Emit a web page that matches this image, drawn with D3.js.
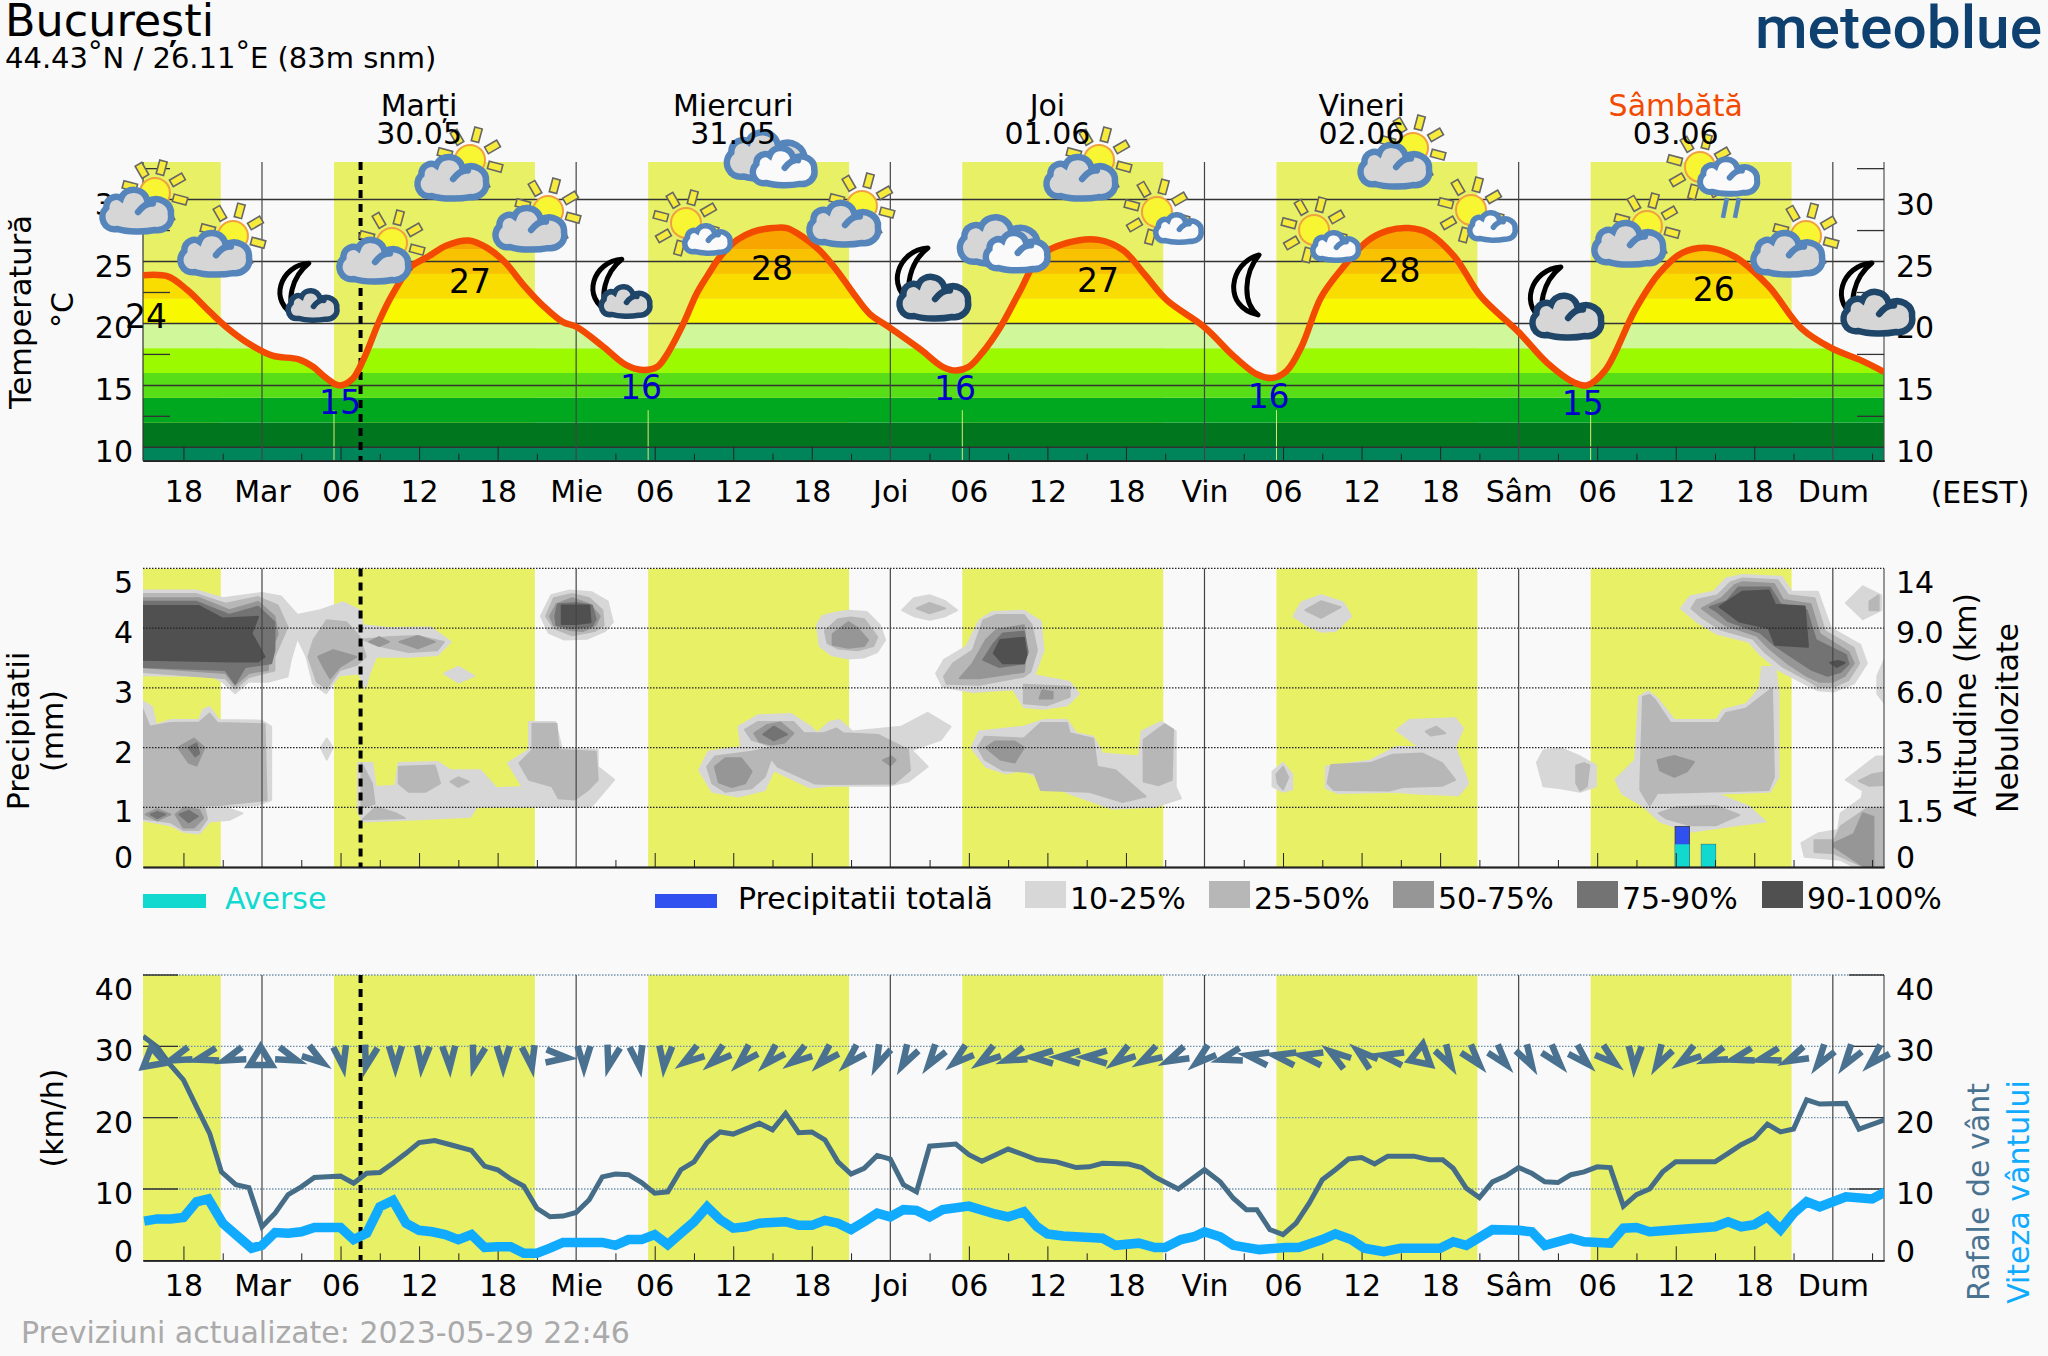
<!DOCTYPE html>
<html><head><meta charset="utf-8">
<script src="https://cdn.jsdelivr.net/npm/d3@7/dist/d3.min.js"></script>
<style>html,body{margin:0;background:#f9f9f9}svg{display:block}text{font-family:"DejaVu Sans";fill:#000}</style>
</head><body><svg id="c" width="2048" height="1356"></svg>
<script>
// ---- time (hours from Tuesday 00:00) ----
const dayTicks=[0,24,48,72,96,120];
const dayTickNames=["Mar","Mie","Joi","Vin","Sâm","Dum"];
const majorHours=[-6,6,12,18,30,36,42,54,60,66,78,84,90,102,108,114];
const minorHours=[-3,3,9,15,21,27,33,39,45,51,57,63,69,75,81,87,93,99,105,111,117,123];
const dayHours=[12,36,60,84,108];
const dayNames=["Marți","Miercuri","Joi","Vineri","Sâmbătă"];
const dayDates=["30.05","31.05","01.06","02.06","03.06"];
const sunrise=[-18.5,5.5,29.5,53.5,77.5,101.5];
const sunset=[-3.15,20.85,44.85,68.85,92.85,116.85];
const nowHour=7.53;
// ---- temperature ----
const tempHours=[-9.09,-7.2,-5.7,-4,-2.6,-0.9,0.8,2.8,3.9,4.9,5.9,6.9,7.8,9,10,11.4,12.7,14.1,15.8,17.2,18.6,19.9,21.5,23,24,26.1,27.8,29.1,30.2,31,32.2,33.2,34,35,36.3,37.5,39,40.1,41.3,42.6,43.9,45.2,46.4,47.9,50.3,52,53,54,55,56.4,57.9,59.4,61.5,63.9,65.8,67.4,69.1,72,74.3,76,77.2,78.3,79.4,80.9,82.4,84.5,86,87.6,89.1,91.1,93.1,96,98.2,100.3,101.2,102.6,104.9,106.7,108.5,110.5,112.5,115.1,117.6,119.9,122.2,123.9];
const tempValues=[23.9,23.8,22.7,20.95,19.6,18.3,17.4,17.1,16.5,15.6,15,15.5,17.2,20.3,22.4,24.6,25.4,26.3,26.7,26.1,24.9,23.2,21.4,20.1,19.74,18.1,16.65,16.24,16.5,17.6,20,22.4,23.8,25.4,26.75,27.4,27.7,27.7,27,25.9,24.3,22.4,20.8,19.7,17.9,16.5,16.2,16.5,17.6,19.7,22.6,25.4,26.5,26.75,25.9,24,21.9,19.7,17.3,15.9,15.6,16.2,18.1,22.1,24.3,26.7,27.5,27.7,27.3,25.4,22.2,19.3,16.8,15.2,15,16.2,21.1,24,25.7,26.1,25.4,23,19.6,18,17,16.1];
const tempBandEdges=[8,10,12,14,16,18,20,22,24,26,28,34];
const tempBandColors=["#00855a","#00771f","#00a81f","#57de16","#9bf900","#d0f79a","#f8f800","#f9dc00","#f8c200","#f8a500","#f88000"];
const tempGrid=[10,15,20,25,30];
const tempMinorTicks=[12.5,17.5,22.5,27.5,32.5];
const extremeHours=[-8.86,5.96,15.9,28.95,38.96,52.94,63.87,76.9,86.9,100.9,110.9];
const extremeTemps=[20.6,13.66,23.43,14.87,24.48,14.8,23.5,14.15,24.3,13.6,22.8];
const extremeLabels=[24,15,27,16,28,16,27,16,28,15,26];
const extremeIsMin=[0,1,0,1,0,1,0,1,0,1,0];
// ---- weather icons ----
const iconKinds=["A","A","D","A","A","A","D","B","C","A","E","C","A","B","F","B","A","B","E","A","G","A","E"];
const iconHours=[-9.63,-3.67,2.14,8.48,14.44,20.4,26.05,32.39,38.8,44.38,49.35,56.6,62.49,68.37,75.02,80.37,86.48,92.36,97.71,104.35,109.85,116.5,121.47];
const iconTemps=[29.17,25.69,22.95,25.13,31.83,27.71,23.27,28.12,33.37,28.12,24.08,26.5,31.83,29,23.11,27.55,32.8,29.17,22.55,26.5,32.64,25.69,22.87];
// ---- precipitation ----
const precipHours=[108.5,110.5];
const showerValues=[0.38,0.38];
const totalValues=[0.68,0.38];
const precipTicks=[0,1,2,3,4,5];
const altitudeLabels=["0","1.5","3.5","6.0","9.0","14"];
// ---- cloud cover outlines, [hour, axis level] per class ----
const cloud10=[
[[-9.3,4.63],[-5,4.63],[-3,4.5],[0,4.59],[1.45,4.53],[2.7,4.22],[4.44,4.3],[6.2,4.43],[7.44,4.3],[7.7,4.05],[9.9,4.0],[12.9,4.01],[14.4,3.77],[13.4,3.55],[11.2,3.52],[8.7,3.52],[8.2,3.24],[7.9,2.99],[7.4,3.24],[5.9,3.21],[4.9,2.91],[3.9,3.07],[3.4,3.52],[2.7,3.84],[2.2,3.47],[1.95,3.19],[.45,3.1],[-1.05,3.1],[-2.05,2.91],[-3,3.1],[-3.8,3.2],[-9.3,3.21]],
[[13.9,3.24],[15,3.35],[16.2,3.2],[15,3.09]],
[[21.3,4.2],[22.1,4.55],[23.5,4.63],[25.2,4.6],[26.4,4.45],[26.8,4.1],[26.2,3.95],[24.8,3.82],[23.1,3.81],[21.9,3.92]],
[[48.9,4.3],[49.8,4.5],[51,4.55],[52.2,4.45],[53.1,4.3],[52.2,4.2],[51,4.14],[49.8,4.2]],
[[42.4,4.05],[42.8,4.2],[43.6,4.25],[44.8,4.29],[46.2,4.27],[47.2,4.05],[47.6,3.8],[47,3.6],[46,3.51],[44.8,3.49],[43.5,3.55],[42.6,3.7]],
[[-9.3,2.8],[-8.4,2.68],[-8.1,2.38],[-7,2.46],[-4.8,2.46],[-4.5,2.63],[-4,2.68],[-3.3,2.46],[-.05,2.45],[.7,2.35],[.7,1.12],[-.3,1.04],[-3,1.01],[-1.5,.9],[-2.5,.79],[-4,.76],[-4.8,.56],[-6,.59],[-7,.7],[-9.3,.79]],
[[4.5,2],[4.95,2.15],[5.4,2],[4.95,1.8]],
[[7.34,1.74],[8.43,1.74],[8.68,1.34],[10.18,1.36],[10.43,1.74],[13.4,1.76],[14.4,1.62],[16.67,1.62],[17.9,1.32],[19.9,1.34],[18.8,1.74],[20.4,1.96],[20.4,2.43],[22.4,2.43],[22.9,1.99],[25.65,1.96],[25.65,1.68],[26.9,1.46],[25.15,1.01],[16.4,1.01],[15.9,.84],[11.93,.8],[7.68,.76],[7.34,.95]],
[[33.4,1.62],[34.1,1.93],[36.6,2.01],[36.4,2.35],[37.9,2.54],[40.4,2.56],[41.9,2.35],[42.4,2.24],[43.4,2.43],[44.1,2.46],[45.1,2.27],[48.85,2.35],[50.85,2.58],[52.6,2.35],[51.85,2.13],[49.6,1.96],[50.85,1.68],[49.35,1.43],[47.85,1.36],[43.4,1.36],[41.9,1.33],[39.1,1.62],[38.4,1.29],[36.4,1.18],[34.4,1.26]],
[[51.5,3.24],[52.1,3.47],[53.8,3.69],[54.8,4.13],[55.8,4.27],[58.2,4.29],[59.5,4.11],[59.7,3.63],[59,3.21],[61.7,3.1],[62.4,2.9],[61.5,2.71],[59.7,2.65],[58.2,2.68],[57.4,2.97],[56.8,2.97],[54.3,2.93],[52,3.02]],
[[54.2,2],[54.8,2.27],[58.2,2.35],[59.7,2.46],[61.5,2.46],[62.2,2.24],[63.5,2.18],[64.2,1.9],[67,1.85],[67.2,2.27],[68.7,2.43],[69.8,2.27],[69.8,1.34],[70.2,1.15],[68.2,1.01],[64.95,.98],[61.7,1.23],[58.2,1.62],[56.8,1.57],[55.3,1.68]],
[[78.8,4.2],[79.4,4.43],[80.9,4.55],[82.6,4.43],[83.2,4.2],[82,3.95],[80.9,3.94],[79.8,4.05]],
[[77.2,1.6],[78,1.74],[78.7,1.55],[78.7,1.3],[78,1.26],[77.2,1.35]],
[[81.27,1.68],[84.66,1.78],[86.66,2.01],[88.4,2.01],[86.66,2.29],[87.66,2.46],[91.15,2.49],[91.75,2.32],[91.15,2.01],[92.15,1.4],[91.4,1.2],[88.2,1.23],[86.66,1.26],[82.2,1.24],[81.27,1.32]],
[[97.4,1.75],[97.9,1.95],[99.2,1.99],[100.7,1.85],[101.9,1.7],[101.9,1.35],[100.7,1.26],[99.2,1.32],[97.9,1.35]],
[[103.4,1.46],[104.9,1.79],[105.2,2.85],[105.9,2.94],[106.6,2.82],[107.9,2.46],[111.1,2.46],[111.6,2.63],[113.4,2.73],[114.4,2.99],[114.6,3.35],[115.6,3.35],[115.85,2.91],[115.85,1.51],[115.2,1.26],[111.1,1.23],[113.6,1.01],[114.85,.76],[112.6,.7],[109.1,.59],[106.8,.76],[105.6,1.01],[103.9,1.23]],
[[108.4,4.33],[109.1,4.53],[110.9,4.61],[111.85,4.83],[113.1,4.89],[116.1,4.86],[116.85,4.61],[118.85,4.61],[119.85,4],[122.1,3.72],[122.6,3.41],[121.6,3.07],[120.1,2.94],[118.85,2.96],[117.85,3.07],[115.85,3.3],[114.35,3.58],[113.6,3.77],[111.1,3.91],[109.6,4.11]],
[[121,4.42],[122.3,4.7],[123.7,4.55],[123.7,4.3],[122.3,4.15]],
[[123.4,3.2],[124.3,3.65],[124.3,2.65],[123.4,2.9]],
[[121,1.46],[123.3,1.85],[124.3,1.85],[124.3,-.1],[122.5,-.1],[120.6,.12],[117.85,.17],[117.6,.4],[118.85,.56],[120.4,.62],[120.6,.9],[122.2,1.15],[122.3,1.28]]
];
const cloud25=[
[[-9.3,4.57],[-5,4.57],[-2.8,4.41],[-.3,4.52],[1.2,4.38],[1.95,4.02],[.95,3.52],[.95,3.29],[-1,3.18],[-2.05,2.99],[-2.8,3.16],[-9.3,3.27]],
[[4.94,4.13],[6.44,4.1],[7.44,3.86],[7.93,3.52],[7.2,3.38],[5.94,3.3],[4.94,2.99],[4.2,3.1],[3.54,3.52],[3.94,3.8]],
[[7.7,3.81],[9.9,3.85],[11.9,3.87],[13.9,3.77],[13.4,3.63],[11.2,3.6],[9.2,3.69]],
[[21.7,4.2],[22.3,4.5],[23.7,4.57],[25,4.5],[26,4.3],[26.1,4.05],[25.4,3.95],[23.7,3.88],[22.3,4]],
[[50,4.33],[51,4.42],[52.2,4.33],[51,4.25]],
[[43,3.95],[44,4.15],[45,4.18],[46,4.15],[47,3.85],[46.7,3.7],[45.5,3.63],[44,3.66],[43.2,3.75]],
[[-9.3,2.74],[-8.6,2.35],[-7,2.41],[-4.8,2.42],[-4,2.57],[-3.4,2.41],[.2,2.39],[.35,1.12],[-3.3,1.04],[-9.3,1.02]],
[[-9.3,.98],[-4.4,1.0],[-4.2,.8],[-4.8,.62],[-6,.62],[-7,.75],[-9.3,.82]],
[[7.6,1.74],[8.4,1.4],[8.6,1.06],[7.6,1]],
[[10.45,1.68],[13.2,1.7],[13.6,1.4],[12.5,1.26],[11.2,1.26],[10.45,1.4]],
[[7.7,.8],[8.7,1.0],[10.2,.9],[10.9,.82]],
[[14.4,1.43],[15,1.5],[15.8,1.43],[15,1.34]],
[[20.66,2.4],[22.5,2.4],[22.65,1.96],[25.5,1.93],[25.65,1.46],[24.9,1.29],[23.9,1.13],[22.65,1.15],[22.16,1.35],[20.4,1.46],[19.66,1.74],[20.66,1.96]],
[[34,1.68],[34.6,1.85],[37.4,1.93],[39.1,2.01],[37.4,2.13],[36.9,2.3],[37.9,2.43],[40.6,2.43],[41.4,2.24],[42.9,2.24],[43.9,2.32],[44.4,2.24],[47.1,2.21],[49.35,1.96],[49.5,1.62],[48.3,1.4],[43.4,1.39],[42.2,1.4],[39.4,1.68],[38.9,1.82],[38.4,1.51],[37.4,1.32],[35.4,1.26],[34.4,1.4]],
[[52.1,3.19],[52.8,3.41],[54.3,3.63],[55.1,4.13],[56.1,4.22],[58.2,4.22],[58.8,4.05],[59.2,3.63],[58.7,3.27],[58.2,3.19],[54.8,3.05],[52.3,3.07]],
[[58.2,3.05],[61.7,3.02],[61.7,2.85],[60,2.71],[58.2,2.74]],
[[58.2,2.15],[59.5,2.41],[61.5,2.41],[61.7,2.24],[63.5,2.15],[63.8,1.68],[65.2,1.62],[67.5,1.18],[65.7,1.09],[63.2,1.26],[59.5,1.29],[59,1.58],[58.2,1.6]],
[[54.7,2],[55.2,2.18],[58.2,2.15],[58.2,1.6],[56.6,1.62],[55.2,1.8]],
[[67.35,2.13],[68.96,2.39],[69.6,2.3],[69.5,1.46],[68.5,1.37],[67.35,1.43]],
[[79.7,4.3],[80.9,4.45],[82.4,4.35],[80.9,4.17]],
[[77.5,1.55],[78,1.68],[78.4,1.5],[78,1.3],[77.6,1.4]],
[[81.67,1.71],[84.66,1.74],[86.4,1.88],[88.65,1.9],[90.15,1.74],[91.15,1.46],[90.15,1.36],[87.15,1.34],[86.15,1.28],[81.9,1.29],[81.4,1.4]],
[[88.9,2.27],[89.7,2.35],[90.4,2.24],[89.3,2.2]],
[[100.4,1.7],[101,1.74],[101.4,1.7],[101.2,1.35],[100.7,1.28],[100.4,1.4]],
[[105.3,1.43],[105.5,2.85],[106,2.88],[106.4,2.8],[107.6,2.41],[111.3,2.41],[111.85,2.58],[113.35,2.65],[115.35,2.99],[115.5,1.51],[115.1,1.29],[106.6,1.24],[106,1.03],[105.3,1.29]],
[[106.7,.9],[108.1,1.0],[111.1,1.02],[112.85,.87],[111.1,.7],[109.1,.7],[107.3,.81]],
[[109.2,4.33],[109.6,4.47],[111.2,4.55],[112.2,4.77],[113.1,4.83],[115.8,4.8],[116.6,4.55],[118.6,4.5],[119.4,3.95],[121.6,3.67],[122,3.41],[121.2,3.13],[120.1,3.02],[118.9,3.02],[117.9,3.15],[116.2,3.35],[114.8,3.6],[113.9,3.82],[111.4,3.98],[110,4.18]],
[[122.8,4.45],[123.5,4.55],[123.5,4.3],[122.8,4.3]],
[[122,1.44],[123,1.55],[124.3,1.6],[124.3,1.38],[122.8,1.36]],
[[120.6,.68],[122.6,.98],[124.3,1.0],[124.3,-.1],[123.4,-.1],[120.1,.23],[118.6,.25],[118.6,.45],[120.1,.45]]
];
const cloud50=[
[[-9.3,4.5],[-4.8,4.5],[-2.5,4.3],[-.3,4.44],[.95,4.2],[1.2,3.9],[.45,3.5],[.45,3.3],[-1,3.25],[-2.05,3.05],[-2.8,3.25],[-9.3,3.35]],
[[5.44,3.63],[7.19,3.52],[5.94,3.35],[5.2,3.16],[4.7,3.35],[4.3,3.52]],
[[8.2,3.77],[8.95,3.85],[9.7,3.77],[8.95,3.7]],
[[10.5,3.77],[11.9,3.87],[13.2,3.77],[11.9,3.66]],
[[22,4.2],[22.5,4.4],[23.7,4.5],[25,4.4],[25.8,4.2],[25.5,4.05],[24.5,3.95],[23.5,3.97],[22.3,4.05]],
[[43.6,3.9],[44.8,4.1],[45.5,4.0],[46.3,3.8],[46,3.7],[44.8,3.67],[43.6,3.72]],
[[-8.9,.88],[-8,.97],[-7,.88],[-8,.78]],
[[-6.6,.88],[-5.9,1.0],[-4.8,.95],[-4.5,.82],[-5.2,.66],[-6,.66]],
[[-6.4,2.0],[-5.2,2.15],[-4.4,2.0],[-5,1.7],[-5.6,1.75]],
[[37.6,2.24],[38.6,2.38],[39.6,2.42],[40.6,2.24],[39.9,2.08],[38.9,2.05],[38,2.1]],
[[34.6,1.68],[35.4,1.82],[36.6,1.82],[37.4,1.6],[36.9,1.4],[35.9,1.34],[34.9,1.42]],
[[47.45,1.79],[48.1,1.85],[48.4,1.79],[48,1.7]],
[[53.3,3.16],[54.3,3.41],[55.3,3.8],[56.1,3.97],[58.2,4.05],[58.4,3.63],[58.2,3.27],[54.8,3.16]],
[[59.6,2.96],[60.4,2.93],[60.4,2.82],[59.4,2.82]],
[[55.3,2],[56,2.1],[57.5,2.1],[58.2,2],[57.5,1.75],[56.4,1.8]],
[[106.6,1.79],[107.9,1.86],[109.4,1.76],[108.85,1.6],[107.9,1.51],[106.8,1.62]],
[[110,4.33],[111.5,4.5],[112.5,4.72],[113.1,4.77],[115.5,4.74],[116.2,4.47],[118.3,4.4],[119,3.9],[121.2,3.6],[121.6,3.41],[120.9,3.2],[120,3.1],[119,3.1],[118,3.2],[116.6,3.4],[115.2,3.65],[114.2,3.87],[111.8,4.05],[110.8,4.2]],
[[120.1,.4],[121.6,.55],[122.3,.9],[123.1,.84],[123.1,-.1],[120.1,.34]]
];
const cloud75=[
[[-9.3,4.44],[-5,4.44],[-2.5,4.22],[-.3,4.36],[.95,4.1],[.95,3.63],[.7,3.41],[-1.3,3.35],[-2.05,3.07],[-2.8,3.3],[-9.3,3.35]],
[[22.4,4.2],[22.6,4.4],[24,4.42],[25.2,4.38],[25.5,4.15],[25.2,4.03],[23.7,4],[22.5,4.05]],
[[-8.5,.88],[-8,.92],[-7.4,.88],[-8,.82]],
[[-6.3,.88],[-5.6,.94],[-4.9,.85],[-5.6,.75]],
[[-5.6,2.0],[-5,2.07],[-4.8,1.9],[-5.1,1.85]],
[[38.3,2.22],[39.1,2.35],[40.1,2.22],[39.1,2.12]],
[[55.1,3.47],[55.9,3.74],[56.6,3.91],[58.2,3.94],[58.5,3.6],[58.2,3.41],[56.3,3.35]],
[[110.6,4.35],[111.9,4.45],[112.8,4.68],[115.2,4.68],[116,4.4],[118,4.3],[118.7,3.8],[121,3.55],[121.2,3.4],[120.6,3.27],[119.6,3.2],[118.4,3.3],[117,3.5],[115.5,3.72],[114.5,3.92],[112,4.12],[111.2,4.27]]
];
const cloud90=[
[[-9.3,4.37],[-4.8,4.37],[-3,4.16],[-.3,4.19],[-.8,3.91],[.2,3.52],[-.3,3.44],[-2.3,3.44],[-9.3,3.47]],
[[22.9,4.38],[25,4.38],[25.1,4.1],[24,4.07],[22.9,4.07]],
[[55.9,3.58],[56.4,3.8],[58.2,3.84],[58.4,3.55],[58.2,3.41],[56.6,3.41]],
[[111.35,4.36],[113.1,4.61],[115.1,4.63],[115.6,4.39],[117.85,4.36],[118.1,3.69],[115.6,3.72],[115.1,4.0],[112.85,4.11]],
[[119.8,3.42],[120.4,3.45],[120.9,3.42],[120.3,3.35]]
];
const cloudClasses=[cloud10,cloud25,cloud50,cloud75,cloud90];
const cloudColors=["#d7d7d7","#b7b7b7","#969696","#737373","#505050"];
const cloudLegend=["10-25%","25-50%","50-75%","75-90%","90-100%"];
// ---- wind ----
const gustHours=[-9.08,-8,-7,-6,-5,-4,-3.1,-2,-1,0,1,2,3,4,5,6,7,8,9,10,11,12,13.2,14.4,16,17,18,19,20,21,22,23,24,25,26,27,28,29,30,31,32,33,34,35,36,38,39,40,41,42,43,44,45,46,47,48,49,50,51,53,54,55,57,58.2,59.2,60.7,62.2,63.2,64.2,66.2,67.2,68.2,70,72,73.2,74.2,75.2,76,77,78,79,80,81,82,83,84,85,86,88,89.2,90.2,91,92,93,94,95,96,97,98,99,100,101,102,103,104,105,106,107,108,111,112,113,114,115,116,117,118,119,121,122,124];
const gustValues=[31.4,29.9,27.4,25.3,21.5,17.8,12.4,10.6,10.2,4.7,6.6,9.2,10.3,11.6,11.7,11.8,10.8,12.2,12.3,13.6,15,16.5,16.8,16.2,15.4,13.2,12.7,11.4,10.4,7.3,6.1,6.2,6.7,8.5,11.7,12.1,12,10.9,9.4,9.6,12.7,13.8,16.5,18,17.7,19.2,18.3,20.6,17.9,18,16.9,13.8,12.1,12.9,14.7,14.2,10.6,9.6,16,16.3,14.8,13.9,15.6,14.8,14.1,13.8,13,13.1,13.6,13.5,13,11.7,10,12.7,11,8.7,7.1,7.1,4.3,3.6,5.2,8,11.3,12.7,14.2,14.4,13.5,14.6,14.6,14.1,14.1,12.9,10.1,8.8,11,11.8,13,12.2,11,10.9,12,12.4,13.1,13,7.6,9.2,10,12.4,13.8,13.8,15,16.2,17.1,19.1,18,18.4,22.5,21.9,22,18.4,19.7];
const speedHours=[-9,-8,-7,-6,-5,-4.1,-3,-2,-0.8,0,1,2,3,4,5,6,7,8,9,10,11,12,13,14,15,16,17,18,19,20,21,22,23,24,26,27,28,29,30,31,32,33,34,35,36,37,38,40,41,42,43,44,45,46,47,48,49,50,51,52,54,56,57,58.2,59.2,60,61.2,63.2,64.2,65.2,67,68.2,69,70.2,71.2,72,73.2,74.2,76.2,78.2,79.2,81,82,83.2,84.2,85.7,87,90,91,92,94,96,97,98,100,101,103,104,105,106,111,112,113,114,115,116,117,118,119,121,123,124];
const speedValues=[5.5,5.8,5.8,6,8.2,8.6,5.2,3.6,1.7,2.1,3.9,3.8,4,4.6,4.6,4.6,2.9,3.8,7.5,8.4,5.2,4.2,4,3.6,2.9,3.6,1.8,1.9,1.9,1,1,1.7,2.5,2.5,2.5,2.1,2.9,2.9,3.6,2.2,3.8,5.4,7.5,5.7,4.5,4.7,5.2,5.4,4.9,4.9,5.6,5.2,4.3,5.4,6.6,6.1,7.1,7,6.1,7.1,7.6,6.5,6.1,6.8,4.7,3.7,3.4,3.2,3.1,2.1,2.4,1.8,1.8,2.9,3.3,4,3.3,2.1,1.5,1.8,1.8,2.9,3.7,2.9,1.7,1.2,1.7,1.7,2.6,2.1,4.3,4.2,4,2.1,3.1,2.6,2.4,4.5,4.6,4,4.7,5.4,4.7,5,6.1,4.3,6.6,8.2,7.5,8.9,8.6,9.6];
const windTicks=[0,10,20,30,40];
// direction glyphs: rotation in degrees of a chevron, clockwise from tip-down
const windRotations=[170,70,75,70,180,-70,-55,-10,15,0,5,-3,15,0,-10,-85,0,15,-10,5,55,50,45,45,55,45,45,25,30,35,50,55,70,90,90,90,55,60,65,50,75,100,100,100,125,130,100,70,-30,-40,-40,-30,-40,-45,-50,3,30,55,70,75,75,65,35,35,45];
const windClosed=[0,4,47];
const windStartHour=-8.33, windStepHour=2.058, windGlyphLevel=28.5;

// ---- scales ----
const X0=143,X1=1884;
const x=d3.scaleLinear().domain([-9.09,123.91]).range([X0,X1]);
const yT=d3.scaleLinear().domain([10,30]).range([447.3,199.6]);
const yP=d3.scaleLinear().domain([0,5]).range([867,568.4]);
const yW=d3.scaleLinear().domain([0,40]).range([1260.3,975]);
const YEL="#e8f066",svg=d3.select("#c");
const panels=[{top:162,bot:460.7,id:"t"},{top:568.4,bot:867,id:"p"},{top:975,bot:1260.3,id:"w"}];
const defs=svg.append("defs");
panels.forEach(p=>defs.append("clipPath").attr("id","clip-"+p.id).append("rect").attr("x",X0).attr("y",p.top).attr("width",X1-X0).attr("height",p.bot-p.top));
const fs=30;
const txt=(s,xx,yy,o={})=>svg.append("text").attr("x",xx).attr("y",yy+(o.center===false?0:(o.size||fs)*.36)).attr("text-anchor",o.anchor||"middle").attr("font-size",o.size||fs).style("fill",o.fill||"#000").text(s);
const vtxt=(s,xx,yy,o={})=>svg.append("text").attr("transform",`translate(${xx+(o.size||fs)*.36},${yy}) rotate(-90)`).attr("text-anchor","middle").attr("font-size",o.size||fs).style("fill",o.fill||"#000").text(s);

// daylight bands
panels.forEach(p=>{
  const g=svg.append("g").attr("clip-path",`url(#clip-${p.id})`);
  g.selectAll("rect").data(d3.zip(sunrise,sunset)).join("rect")
    .attr("x",d=>x(d[0])).attr("width",d=>x(d[1])-x(d[0])).attr("y",p.top).attr("height",p.bot-p.top).attr("fill",YEL);
});

// --- temperature area ---
const tempData=d3.zip(tempHours,tempValues);
const tempCurve=d3.curveCatmullRom.alpha(0.5);
const areaGen=d3.area().x(d=>x(d[0])).y0(panels[0].bot).y1(d=>yT(d[1])).curve(tempCurve);
defs.append("clipPath").attr("id","clip-area").append("path").attr("d",areaGen(tempData));
svg.append("g").attr("clip-path","url(#clip-area)").selectAll("rect").data(tempBandColors).join("rect")
  .attr("x",X0).attr("width",X1-X0).attr("fill",d=>d)
  .attr("y",(d,i)=>yT(tempBandEdges[i+1])).attr("height",(d,i)=>yT(tempBandEdges[i])-yT(tempBandEdges[i+1]));
// pale sunrise edges over the coloured bands
svg.append("g").selectAll("line").data(sunrise.slice(1)).join("line")
  .attr("x1",d=>x(d)).attr("x2",d=>x(d)).attr("y1",yT(13)).attr("y2",panels[0].bot).attr("stroke","#d9ec70").attr("stroke-width",1);
// grid
svg.append("g").selectAll("line").data(tempGrid).join("line").attr("x1",X0).attr("x2",X1).attr("y1",d=>yT(d)).attr("y2",d=>yT(d)).attr("stroke","#333").attr("stroke-width",1.5);

// --- cloud cover ---
const cloudLine=d3.line().x(d=>x(d[0])).y(d=>yP(d[1])).curve(d3.curveLinearClosed);
const cg=svg.append("g").attr("clip-path","url(#clip-p)");
cloudClasses.forEach((cl,i)=>cg.append("g").selectAll("path").data(cl).join("path").attr("d",cloudLine).attr("fill",cloudColors[i]).attr("stroke",cloudColors[i]).attr("stroke-width",2).attr("stroke-linejoin","round"));
svg.append("g").selectAll("line").data(precipTicks.slice(1)).join("line").attr("x1",X0).attr("x2",X1).attr("y1",d=>yP(d)).attr("y2",d=>yP(d)).attr("stroke","#222").attr("stroke-width",1.3).attr("stroke-dasharray","1.5 1.5");
// precipitation bars
const barW=x(1.1)-x(0);
svg.append("g").selectAll("rect").data(d3.zip(precipHours,totalValues)).join("rect").attr("x",d=>x(d[0])-barW/2).attr("width",barW).attr("y",d=>yP(d[1])).attr("height",d=>yP(0)-yP(d[1])).attr("fill","#3050f0").attr("stroke","#334").attr("stroke-width",.8);
svg.append("g").selectAll("rect").data(d3.zip(precipHours,showerValues)).join("rect").attr("x",d=>x(d[0])-barW/2).attr("width",barW).attr("y",d=>yP(d[1])).attr("height",d=>yP(0)-yP(d[1])).attr("fill","#12d9d0");

// --- wind grid ---
svg.append("g").selectAll("line").data(windTicks.slice(1)).join("line").attr("x1",X0).attr("x2",X1).attr("y1",d=>yW(d)).attr("y2",d=>yW(d)).attr("stroke","#6f93ad").attr("stroke-width",1.3).attr("stroke-dasharray","1.5 1.5");

// day lines, time axes
panels.forEach((p,pi)=>{
  svg.append("g").selectAll("line").data(dayTicks).join("line").attr("x1",d=>x(d)).attr("x2",d=>x(d)).attr("y1",p.top).attr("y2",p.bot).attr("stroke","#444").attr("stroke-width",1.2);
  const ax=svg.append("g").attr("transform",`translate(0,${p.bot})`);
  const minor=ax.append("g").call(d3.axisBottom(x).tickValues(minorHours).tickSizeInner(-7).tickSizeOuter(0).tickFormat(""));
  const major=ax.append("g").call(d3.axisBottom(x).tickValues(majorHours).tickSizeInner(-14).tickSizeOuter(0).tickFormat(d=>pi===1?"":String((d+240)%24).padStart(2,"0")).tickPadding(pi===0?20:14));
  const days=ax.append("g").call(d3.axisBottom(x).tickValues(dayTicks).tickSize(0).tickFormat((d,i)=>pi===1?"":dayTickNames[i]).tickPadding(pi===0?20:14));
  [minor,major,days].forEach(a=>{a.select(".domain").attr("stroke","#222").attr("stroke-width",1.6);a.selectAll("line").attr("stroke","#222").attr("stroke-width",1);a.selectAll("text").attr("font-size",fs).attr("font-family","DejaVu Sans");});
  svg.append("line").attr("x1",x(nowHour)).attr("x2",x(nowHour)).attr("y1",p.top).attr("y2",p.bot).attr("stroke","#000").attr("stroke-width",4).attr("stroke-dasharray","8 6");
  // right spine
  svg.append("line").attr("x1",X1).attr("x2",X1).attr("y1",p.top).attr("y2",p.bot).attr("stroke","#333").attr("stroke-width",1);
});
svg.append("line").attr("x1",X0).attr("x2",X0).attr("y1",162).attr("y2",460.7).attr("stroke","#333").attr("stroke-width",1.2);

// side ticks
const sideTicks=(vals,scale,len)=>{[[X0,X0+len],[X1-len,X1]].forEach(([a,b])=>svg.append("g").selectAll("line").data(vals).join("line").attr("x1",a).attr("x2",b).attr("y1",d=>scale(d)).attr("y2",d=>scale(d)).attr("stroke","#333").attr("stroke-width",1.3));};
sideTicks(tempMinorTicks,yT,27);
sideTicks(windTicks.slice(1),yW,35);

// y axis labels through axes
function yLabels(scale,vals,fmt,side,top,bot){
  const a=(side==="l"?d3.axisLeft(scale):d3.axisRight(scale)).tickValues(vals).tickSize(0).tickPadding(0).tickFormat(fmt);
  const g=svg.append("g").attr("transform",`translate(${side==="l"?133:1896},0)`).call(a);
  g.select(".domain").remove();
  g.selectAll("text").attr("font-size",fs).attr("font-family","DejaVu Sans").attr("x",0)
   .attr("dy",null).attr("y",d=>{const c=scale(d);let o=c+3.7;if(c-top<6)o=top+13.3;if(bot-c<3)o=bot-10;return o-c+fs*.36;});
}
yLabels(yT,tempGrid,d=>d,"l",0,9999);
yLabels(yT,tempGrid,d=>d,"r",0,9999);
yLabels(yP,precipTicks,d=>d,"l",568.4,867);
yLabels(yP,precipTicks,(d,i)=>altitudeLabels[i],"r",568.4,867);
yLabels(yW,windTicks,d=>d,"l",975,1260.3);
yLabels(yW,windTicks,d=>d,"r",975,1260.3);

// temperature line + labels
svg.append("path").attr("d",d3.line().x(d=>x(d[0])).y(d=>yT(d[1])).curve(tempCurve)(tempData)).attr("clip-path","url(#clip-t)").attr("fill","none").attr("stroke","#f24a00").attr("stroke-width",6.5);
extremeHours.forEach((h,i)=>{
  txt(extremeLabels[i],x(h),yT(extremeTemps[i]),{size:33,fill:extremeIsMin[i]?"#0000cc":"#000"}); });

// --- wind lines ---
const lineW=d3.line().x(d=>x(d[0])).y(d=>yW(d[1]));
svg.append("path").attr("d",lineW(d3.zip(gustHours,gustValues))).attr("clip-path","url(#clip-w)").attr("fill","none").attr("stroke","#466d88").attr("stroke-width",5);
svg.append("path").attr("d",lineW(d3.zip(speedHours,speedValues))).attr("clip-path","url(#clip-w)").attr("fill","none").attr("stroke","#10aaff").attr("stroke-width",9.5);
// wind direction glyphs
svg.append("g").selectAll("path").data(windRotations).join("path")
  .attr("transform",(d,i)=>`translate(${x(windStartHour+i*windStepHour)},${yW(windGlyphLevel)}) rotate(${d})`)
  .attr("d",(d,i)=>windClosed.includes(i)?"M0 10L-11 -8L11 -8Z":"M-6.5 -11L0 10L6.5 -11").attr("fill","none").attr("stroke","#4a7290").attr("stroke-width",6.5).attr("stroke-linejoin","miter");

// --- icons ---
const CLOUD="M-18,18C-30,20 -36,6 -28,-2C-28,-12 -18,-14 -14,-11C-10,-22 8,-22 11,-8C22,-14 34,-6 33,4C35,14 26,20 18,19C8,21 -8,21 -18,18Z";
const CLOUD_IN="M2,2C6,-3 10,-7 16,-6";
const MOON="M15,-30C-15,-22 -22,22 14,30C-2,18 0,-12 15,-30Z";
function cloud(g,dx,dy,s,fill,stroke,sw){
  const c=g.append("g").attr("transform",`translate(${dx},${dy}) scale(${s})`);
  c.append("path").attr("d",CLOUD).attr("fill",fill).attr("stroke",stroke).attr("stroke-width",sw/s);
  c.append("path").attr("d",CLOUD_IN).attr("fill","none").attr("stroke",stroke).attr("stroke-width",sw/s).attr("stroke-linecap","round");
}
function sun(g){
  [-30,-75,-120,-165,150,105,60,15].forEach(a=>g.append("rect").attr("x",19).attr("y",-3.8).attr("width",14).attr("height",7.6).attr("transform",`rotate(${a})`).attr("fill","#f6ea3c").attr("stroke","#666").attr("stroke-width",1.6));
  g.append("circle").attr("r",15).attr("fill","#f8f532").attr("stroke","#f0a040").attr("stroke-width",2);
}
function moon(g,s,rot){g.append("path").attr("d",MOON).attr("transform",`rotate(${rot}) scale(${s})`).attr("fill","#f9f9f9").attr("stroke","#000").attr("stroke-width",5/s).attr("stroke-linejoin","round");}
const BL="#5585bb",NI="#1f4568",GR="#d6d6d6",WH="#fafafa";
iconKinds.forEach((k,i)=>{
  const g=svg.append("g").attr("transform",`translate(${x(iconHours[i])},${yT(iconTemps[i])})`);
  if(k==="A"){const s=g.append("g").attr("transform","translate(19,-17)");sun(s);cloud(g,0,0,1.06,GR,BL,6.5);}
  if(k==="B"){sun(g);cloud(g,21,16,.7,WH,BL,5.5);}
  if(k==="C"){cloud(g,-5,-3,1.2,GR,BL,6.5);cloud(g,13,8,.95,WH,BL,6.5);}
  if(k==="D"){moon(g,.9,12);cloud(g,22,18,.75,GR,NI,5.5);}
  if(k==="E"){moon(g,.95,12);cloud(g,25,24,1.06,GR,NI,6.5);}
  if(k==="F"){moon(g,1,0);}
  if(k==="G"){sun(g);cloud(g,28,9,.88,WH,BL,6);
    [[25,41],[37,41]].forEach(p=>g.append("line").attr("x1",p[0]+2).attr("x2",p[0]-2).attr("y1",p[1]-10).attr("y2",p[1]+10).attr("stroke",BL).attr("stroke-width",4.5));}
});

// --- titles ---
txt("București",5,36,{anchor:"start",size:44.5,center:false});
svg.append("text").attr("x",5).attr("y",68).attr("font-size",29).html('44.43<tspan dy="-7">°</tspan><tspan dy="7">N / 26.11</tspan><tspan dy="-7">°</tspan><tspan dy="7">E (83m snm)</tspan>');
svg.append("text").attr("x",1755).attr("y",48).attr("font-size",60).attr("font-weight",500).attr("textLength",287).attr("lengthAdjust","spacingAndGlyphs").style("font-family","Roboto").style("fill","#0f4170").text("meteoblue");
dayHours.forEach((h,i)=>{
  txt(dayNames[i],x(h),105,{fill:i===4?"#f24a00":"#000"});
  txt(dayDates[i],x(h),133);
});
txt("(EEST)",1980,491.7);
vtxt("Temperatură",20,312,{size:30.5});vtxt("°C",62,310);
vtxt("Precipitatii",18,731);vtxt("(mm)",52,731);
vtxt("Altitudine (km)",1965,705);vtxt("Nebulozitate",2007,718);
vtxt("(km/h)",52,1118);
vtxt("Rafale de vânt",1978,1192,{fill:"#4a7391"});vtxt("Viteza vântului",2018,1192,{fill:"#10aaff"});
txt("Previziuni actualizate: 2023-05-29 22:46",21,1332,{anchor:"start",fill:"#aaa"});

// --- legend ---
const lg=svg.append("g");
lg.append("rect").attr("x",143).attr("y",894).attr("width",63).attr("height",14).attr("fill","#12d9d0");
txt("Averse",225,898,{anchor:"start",fill:"#12d9d0"});
lg.append("rect").attr("x",655).attr("y",894).attr("width",62).attr("height",14).attr("fill","#3050f0");
txt("Precipitatii totală",738,898,{anchor:"start"});
const legendX=[1025,1209,1393,1577,1762];
cloudLegend.forEach((s,i)=>{lg.append("rect").attr("x",legendX[i]).attr("y",881).attr("width",41).attr("height",27).attr("fill",cloudColors[i]);txt(s,legendX[i]+45,898,{anchor:"start"});});
</script></body></html>
